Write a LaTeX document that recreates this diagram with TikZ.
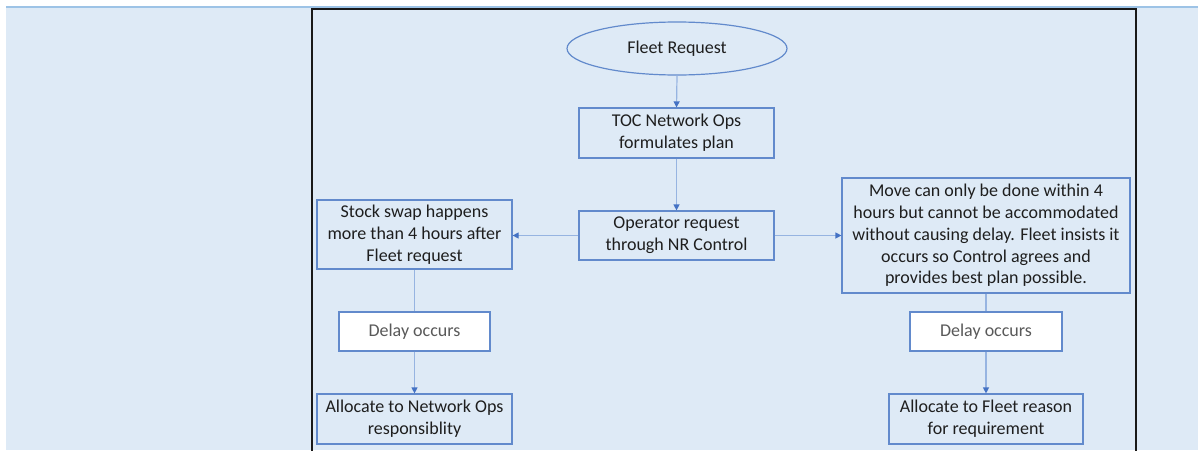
\documentclass[tikz,border=0pt]{standalone}
\usepackage{fontspec}
\setmainfont{Carlito}
\usetikzlibrary{shapes.geometric,arrows.meta}
\definecolor{bg}{RGB}{222,234,246}
\definecolor{topline}{RGB}{157,195,230}
\definecolor{boxline}{RGB}{98,138,204}
\definecolor{connline}{RGB}{150,180,225}
\definecolor{tipcol}{RGB}{68,114,196}
\definecolor{txt}{RGB}{30,30,30}
\definecolor{graytxt}{RGB}{89,89,89}
\definecolor{framecol}{RGB}{25,25,25}
\begin{document}
\begin{tikzpicture}[x=1pt,y=-1pt,
  box/.style={draw=boxline,line width=1.2pt,fill=bg,align=center,inner sep=0pt,text=txt,font=\fontsize{18}{21.7}\selectfont},
  whitebox/.style={box,fill=white,text=graytxt},
  connector/.style={draw=connline,line width=1.2pt},
  arr/.style={connector,-{Triangle[length=6pt,width=6pt,color=tipcol]}}]
\useasboundingbox (0,0) rectangle (1198,450);
\fill[white] (0,0) rectangle (1198,450);
\fill[bg] (6,7) rectangle (1198,450);
\draw[topline,line width=2pt] (6,6.5) -- (1198,6.5);
\draw[framecol,line width=2.5pt] (312,455) -- (312,9) -- (1136,9) -- (1136,455);

\node[box,ellipse,minimum width=220pt,minimum height=53pt] (fleet) at (677,48.5) {Fleet Request};
\node[box,minimum width=195pt,minimum height=50pt] (toc) at (676.5,133) {TOC Network Ops\\formulates plan};
\node[box,minimum width=195pt,minimum height=49pt] (op) at (676.5,235.5) {Operator request\\through NR Control};
\node[box,minimum width=195pt,minimum height=69pt] (stock) at (414.5,234.5) {Stock swap happens\\more than 4 hours after\\Fleet request};
\node[box,minimum width=288pt,minimum height=115pt] (move) at (986,235.5) {Move can only be done within 4\\hours but cannot be accommodated\\without causing delay. Fleet insists it\\occurs so Control agrees and\\provides best plan possible.};
\node[whitebox,minimum width=151pt,minimum height=39pt] (d1) at (414.5,331.5) {Delay occurs};
\node[box,minimum width=195pt,minimum height=50pt] (a1) at (414.5,419) {Allocate to Network Ops\\responsiblity};
\node[whitebox,minimum width=152pt,minimum height=39pt] (d2) at (986,331.5) {Delay occurs};
\node[box,minimum width=194pt,minimum height=50pt] (a2) at (986,419) {Allocate to Fleet reason\\for requirement};

\draw[arr] (fleet.south) -- (toc.north);
\draw[arr] (toc.south) -- (op.north);
\draw[arr] (op.west) -- (op.west -| stock.east);
\draw[arr] (op.east) -- (op.east -| move.west);
\draw[connector] (stock.south) -- (d1.north);
\draw[arr] (d1.south) -- (a1.north);
\draw[connector] (move.south) -- (d2.north);
\draw[arr] (d2.south) -- (a2.north);
\end{tikzpicture}
\end{document}
